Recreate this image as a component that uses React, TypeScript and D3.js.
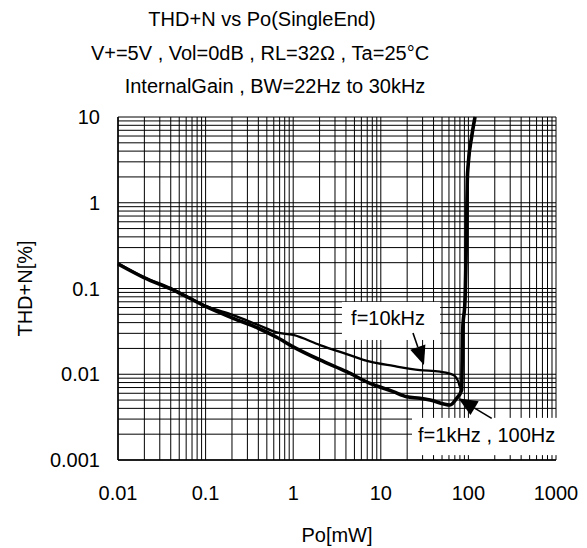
import React from "react";
import * as d3 from "d3";

// ---- data ----
const xTickValues = [0.01, 0.1, 1, 10, 100, 1000];
const xTickLabels = ["0.01", "0.1", "1", "10", "100", "1000"];
const yTickValues = [0.001, 0.01, 0.1, 1, 10];
const yTickLabels = ["0.001", "0.01", "0.1", "1", "10"];

// f = 1kHz , 100Hz (thick)
const powerLow = [0.01, 0.0195, 0.043, 0.103, 0.207, 0.4, 0.648, 1.0, 2.02, 4.08, 7.53, 13.9, 19.8, 28, 36.5, 61.7, 73.5, 83.8, 86.1, 91.5, 95.6, 97.1, 99.7, 109, 119];
const thdLow = [0.193, 0.135, 0.096, 0.061, 0.0449, 0.0344, 0.027, 0.0209, 0.0147, 0.0107, 0.00783, 0.00627, 0.00547, 0.00525, 0.005, 0.00438, 0.00524, 0.00655, 0.0328, 0.0735, 0.63, 1.84, 2.88, 5.9, 10];

// f = 10kHz (thin)
const power10k = [0.01, 0.0195, 0.043, 0.103, 0.207, 0.4, 0.648, 1.0, 2.02, 4.08, 7.53, 13.9, 28, 47.4, 67.3, 76.7, 81.7, 83.5, 86.1, 91.5, 95.6, 97.1, 99.7, 109, 119];
const thd10k = [0.197, 0.136, 0.097, 0.062, 0.049, 0.0375, 0.0308, 0.0287, 0.0219, 0.0172, 0.014, 0.0125, 0.0112, 0.0107, 0.0098, 0.0082, 0.00686, 0.0072, 0.0328, 0.0735, 0.63, 1.84, 2.88, 5.9, 10];

const titleLines = [
  "THD+N vs Po(SingleEnd)",
  "V+=5V , Vol=0dB , RL=32Ω , Ta=25°C",
  "InternalGain , BW=22Hz to 30kHz",
];
const xTitle = "Po[mW]";
const yTitle = "THD+N[%]";
const label10k = "f=10kHz";
const label1k = "f=1kHz , 100Hz";

// annotation anchors in data space [power, thd]
const box10k = { p0: 3.6, p1: 47.5, t0: 0.0251, t1: 0.0697 };
const text10kAt = [12.1, 0.0453];
const arrow10k = { from: [23.3, 0.0303], to: [31.1, 0.0128] };
const box1k = { p0: 22.7, p1: 1000, t0: 0.00114, t1: 0.0031 };
const text1kAt = [26.6, 0.00196];
const arrow1k = { from: [184.5, 0.00306], to: [76.7, 0.00524] };

const W = 587;
const H = 548;
const M = { left: 118, right: 556, top: 117, bottom: 460 };
const FONT = "'Liberation Sans', Arial, sans-serif";

function minorValues(lo: number, hi: number): number[] {
  const out: number[] = [];
  for (let e = Math.round(Math.log10(lo)); e < Math.round(Math.log10(hi)); e++) {
    for (let k = 1; k <= 9; k++) out.push(k * Math.pow(10, e));
  }
  out.push(hi);
  return out;
}

export default function App() {
  const x = d3.scaleLog().domain([0.01, 1000]).range([M.left, M.right]);
  const y = d3.scaleLog().domain([0.001, 10]).range([M.bottom, M.top]);

  const xGrid = minorValues(0.01, 1000);
  const yGrid = minorValues(0.001, 10);

  const line = d3
    .line<[number, number]>()
    .x((d) => x(d[0]))
    .y((d) => y(d[1]))
    .curve(d3.curveMonotoneX);

  const lowPts = powerLow.map((p, i) => [p, thdLow[i]] as [number, number]);
  const hiPts = power10k.map((p, i) => [p, thd10k[i]] as [number, number]);

  const arrow = (a: { from: number[]; to: number[] }, key: string) => {
    const x1 = x(a.from[0]);
    const y1 = y(a.from[1]);
    const x2 = x(a.to[0]);
    const y2 = y(a.to[1]);
    const ang = Math.atan2(y2 - y1, x2 - x1);
    const len = 19;
    const hw = 8;
    const bx = x2 - len * Math.cos(ang);
    const by = y2 - len * Math.sin(ang);
    const px = -Math.sin(ang) * hw;
    const py = Math.cos(ang) * hw;
    const pts = `${x2},${y2} ${bx + px},${by + py} ${bx - px},${by - py}`;
    return (
      <g key={key}>
        <line x1={x1} y1={y1} x2={bx} y2={by} stroke="#000" strokeWidth={1.6} />
        <polygon points={pts} fill="#000" />
      </g>
    );
  };

  return (
    <svg width={W} height={H} style={{ position: "absolute", left: 0, top: 0 }} fontFamily={FONT}>
      <rect x={0} y={0} width={W} height={H} fill="#fff" />
      {/* titles */}
      <text x={262} y={26} fontSize={20} textAnchor="middle">{titleLines[0]}</text>
      <text x={260} y={60} fontSize={20} textAnchor="middle">{titleLines[1]}</text>
      <text x={275} y={93} fontSize={20} textAnchor="middle">{titleLines[2]}</text>

      {/* grid */}
      <g stroke="#000" strokeWidth={1}>
        {xGrid.map((v, i) => (
          <line key={"vx" + i} x1={x(v)} x2={x(v)} y1={M.top} y2={M.bottom} />
        ))}
        {yGrid.map((v, i) => (
          <line key={"hy" + i} x1={M.left} x2={M.right} y1={y(v)} y2={y(v)} />
        ))}
      </g>
      <line x1={M.left} x2={M.left} y1={M.top} y2={M.bottom} stroke="#000" strokeWidth={1.5} />
      <line x1={M.left} x2={M.right} y1={M.bottom} y2={M.bottom} stroke="#000" strokeWidth={1.5} />

      {/* label boxes */}
      <rect x={x(box10k.p0)} y={y(box10k.t1)} width={x(box10k.p1) - x(box10k.p0)} height={y(box10k.t0) - y(box10k.t1)} fill="#fff" />
      <rect x={x(box1k.p0)} y={y(box1k.t1)} width={x(box1k.p1) - x(box1k.p0) + 1} height={y(box1k.t0) - y(box1k.t1)} fill="#fff" />

      {/* curves */}
      <path d={line(hiPts) || ""} fill="none" stroke="#000" strokeWidth={2.3} strokeLinejoin="round" />
      <path d={line(lowPts) || ""} fill="none" stroke="#000" strokeWidth={3.6} strokeLinejoin="round" />

      {/* annotations */}
      <text x={x(text10kAt[0])} y={y(text10kAt[1])} dy="0.35em" fontSize={20} textAnchor="middle">{label10k}</text>
      <text x={x(text1kAt[0])} y={y(text1kAt[1])} dy="0.35em" fontSize={20} textAnchor="start">{label1k}</text>
      {arrow(arrow10k, "a10k")}
      {arrow(arrow1k, "a1k")}

      {/* tick labels */}
      {xTickValues.map((v, i) => (
        <text key={"xt" + i} x={x(v)} y={500} fontSize={20} textAnchor="middle">{xTickLabels[i]}</text>
      ))}
      {yTickValues.map((v, i) => (
        <text key={"yt" + i} x={100} y={y(v)} dy="0.35em" fontSize={20} textAnchor="end">{yTickLabels[i]}</text>
      ))}
      <text x={(M.left + M.right) / 2} y={542} fontSize={20} textAnchor="middle">{xTitle}</text>
      <text transform={`translate(32,${(M.top + M.bottom) / 2}) rotate(-90)`} fontSize={20} textAnchor="middle">{yTitle}</text>
    </svg>
  );
}
